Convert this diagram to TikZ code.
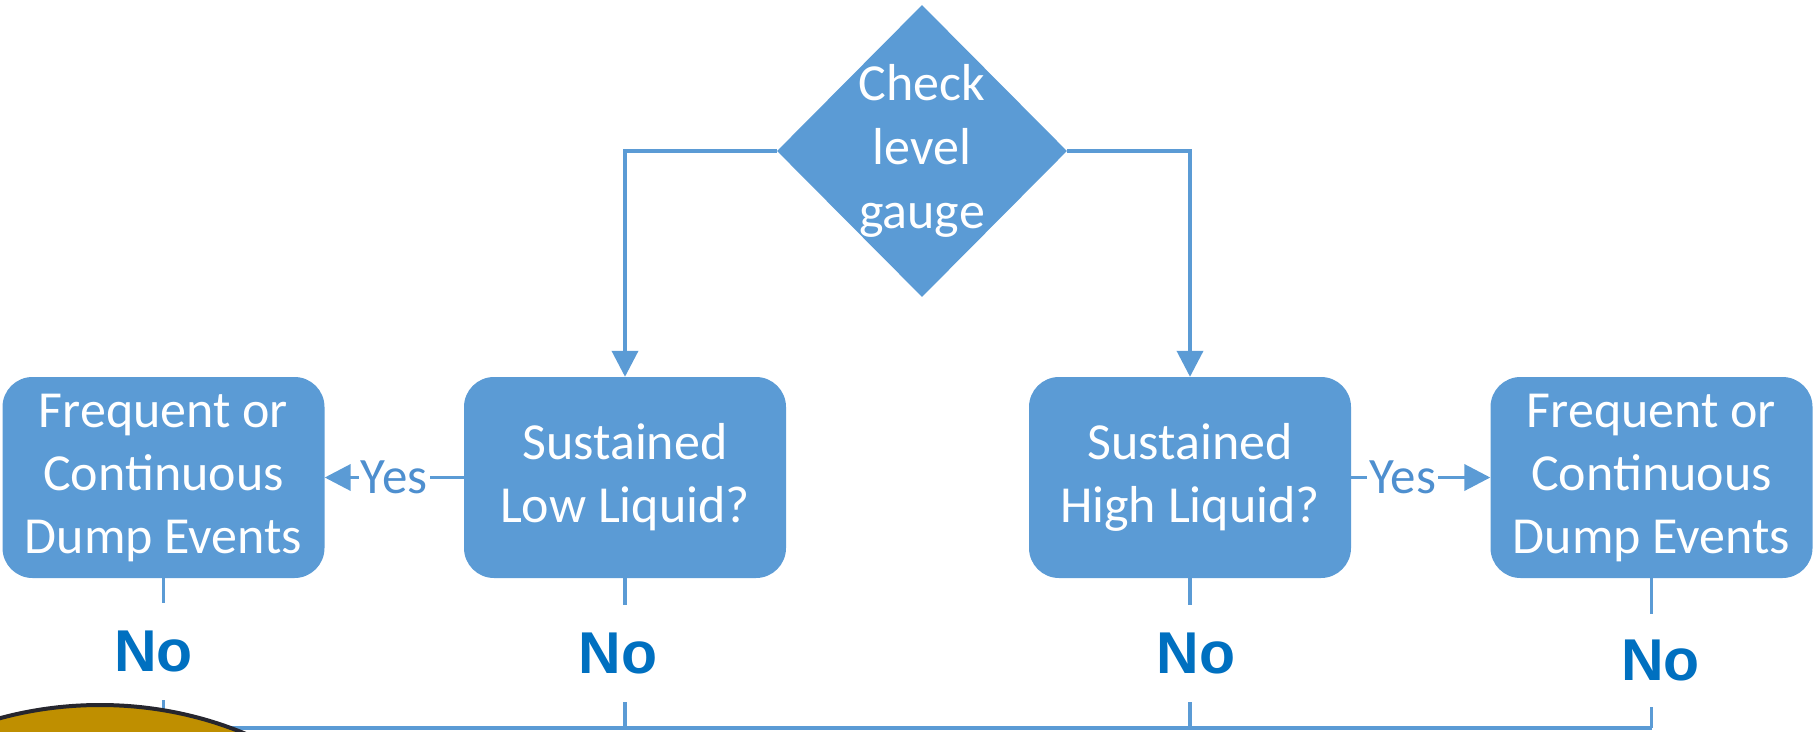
\documentclass[tikz,border=0pt]{standalone}
\usepackage{fontspec}
\setmainfont{Carlito}
\newfontfamily\nofont{Liberation Sans}
\usetikzlibrary{arrows.meta,shapes.geometric}
\definecolor{boxblue}{HTML}{5B9BD5}
\definecolor{yesblue}{HTML}{4E8FCF}
\definecolor{noblue}{HTML}{0070C0}
\definecolor{goldfill}{HTML}{BF8F00}
\definecolor{outl}{HTML}{26262E}
\begin{document}
\begin{tikzpicture}[x=1pt,y=-1pt,
  box/.style={fill=boxblue, rounded corners=30pt, minimum width=322pt, minimum height=201pt,
    text=white, align=center, font=\fontsize{52}{63}\selectfont, inner sep=0pt},
  dia/.style={diamond, fill=boxblue, minimum width=290pt, minimum height=292pt, inner sep=0pt, shape aspect=1},
  diatext/.style={text=white, align=center, font=\fontsize{52}{64}\selectfont, inner sep=0pt},
  conn/.style={draw=boxblue, line width=3.8pt},
  arr/.style={conn, -{Triangle[length=26pt,width=26pt]}},
  yes/.style={fill=white, text=yesblue, font=\fontsize{51}{51}\selectfont, inner xsep=2pt, inner ysep=2pt},
  nolab/.style={fill=white, text=noblue, font=\nofont\bfseries\fontsize{59}{59}\selectfont, inner sep=0pt, minimum width=80pt},
]
\useasboundingbox (0,0) rectangle (1819,731);
% nodes
\node[dia] (chk) at (922,151) {};
\node[diatext] (chktxt) at (chk.center) {Check\\level\\gauge};
\node[box] (A) at (163.5,477.5) {Frequent or\\Continuous\\Dump Events};
\node[box] (B) at (625,477.5) {Sustained\\Low Liquid?};
\node[box] (C) at (1190,477.5) {Sustained\\High Liquid?};
\node[box] (D) at (1651.5,477.5) {Frequent or\\Continuous\\Dump Events};
\coordinate (busy) at (0,728);
\coordinate (bA) at (A.south |- busy);
\coordinate (bB) at (B.south |- busy);
\coordinate (bC) at (C.south |- busy);
\coordinate (bD) at (D.south |- busy);
% connectors
\draw[arr] (chk.west) -| (B.north);
\draw[arr] (chk.east) -| (C.north);
\draw[arr] (B.west) -- (A.east) node[yes, midway] {Yes};
\draw[arr] (C.east) -- (D.west) node[yes, pos=0.37] {Yes};
\draw[conn] (A.south) -- (bA) node[nolab, pos=0.487, xshift=-10pt, minimum height=97pt] {No};
\draw[conn] (B.south) -- (bB) node[nolab, pos=0.5, xshift=-7pt, minimum height=97pt] {No};
\draw[conn] (C.south) -- (bC) node[nolab, pos=0.5, xshift=6pt, minimum height=97pt] {No};
\draw[conn] (D.south) -- (bD) node[nolab, pos=0.55, xshift=9pt, minimum height=93pt] {No};
\draw[conn] (bA) -- (bD);
% golden shape
\begin{scope}
\clip (0,0) rectangle (1819,731);
\draw[fill=goldfill, draw=outl, line width=4pt] (100,1005) ellipse [x radius=340pt, y radius=300pt];
\end{scope}
\end{tikzpicture}
\end{document}
